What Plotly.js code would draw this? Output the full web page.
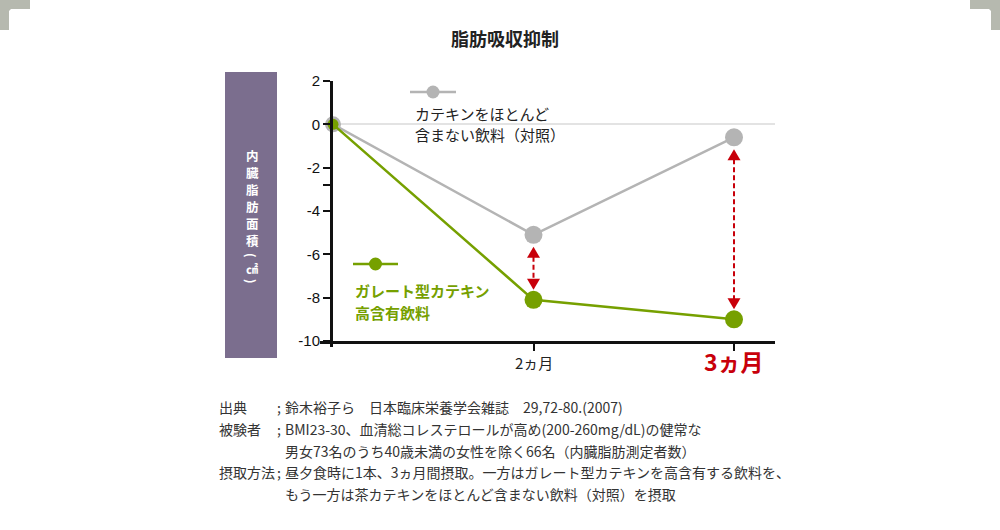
<!DOCTYPE html>
<html>
<head>
<meta charset="utf-8">
<script src="https://cdn.plot.ly/plotly-3.0.1.min.js"></script>
<style>
  html, body { margin: 0; padding: 0; background: #fff; }
  #chart { width: 1000px; height: 530px; }
</style>
</head>
<body>
<div id="chart"></div>
<script>
// data
var monthIdx = [0, 1, 2];
var monthLabels = ['', '2ヵ月', '3ヵ月'];
var controlName = ['カテキンをほとんど', '含まない飲料（対照）'];
var controlVals = [0, -5.1, -0.6];
var galloylName = ['ガレート型カテキン', '高含有飲料'];
var galloylVals = [0, -8.1, -9.0];
var yTickVals = [2, 0, -2, -2.8, -4, -6, -8, -10];
var yTickText = ['2', '0', '-2', '', '-4', '-6', '-8', '-10'];
var yLabelChars = ['内', '臓', '脂', '肪', '面', '積'];
var yLabelUnit = ['(', '㎠', ')'];
var chartTitle = '脂肪吸収抑制';
var noteLabels = ['出典', '被験者', '', '摂取方法', ''];
var noteTexts = [
  '鈴木裕子ら　日本臨床栄養学会雑誌　29,72-80.(2007)',
  'BMI23-30、血清総コレステロールが高め(200-260mg/dL)の健常な',
  '男女73名のうち40歳未満の女性を除く66名（内臓脂肪測定者数）',
  '昼夕食時に1本、3ヵ月間摂取。一方はガレート型カテキンを高含有する飲料を、',
  'もう一方は茶カテキンをほとんど含まない飲料（対照）を摂取'
];

// plot box in pixels
var L = 333, R = 775, T = 81, B = 341;
var yMin = -10, yMax = 2;
var unitPx = (B - T) / (yMax - yMin);
var xMax = (R - L) / 200.5;
function px(x) { return (x - L) / (R - L); }
function py(y) { return (B - y) / (B - T); }

var GRAY = '#b4b4b4', GREEN = '#76a000', RED = '#c8000a', CORNER = '#b6b9af', PURPLE = '#7b6e8e';
var JP = 'Noto Sans CJK JP';

var gray = {
  x: monthIdx, y: controlVals, mode: 'lines+markers', type: 'scatter',
  line: { color: GRAY, width: 2.5 },
  marker: { color: GRAY, size: [16, 18, 18], opacity: 1, line: { width: 0 } },
  cliponaxis: false, hoverinfo: 'skip'
};
var green = {
  x: monthIdx, y: galloylVals, mode: 'lines+markers', type: 'scatter',
  line: { color: GREEN, width: 2.5 },
  marker: { color: GREEN, size: [11, 18, 18], opacity: 1, line: { width: 0 } },
  cliponaxis: false, hoverinfo: 'skip'
};

var data = [gray, green];
var shapes = [];

// red dashed difference arrows at 2 and 3 months
[1, 2].forEach(function (i) {
  var top = controlVals[i], bot = galloylVals[i];
  data.push({
    x: [i, i], y: [top - 22 / unitPx, bot + 20 / unitPx],
    mode: 'lines', type: 'scatter',
    line: { color: RED, width: 2, dash: '5px,3px' },
    hoverinfo: 'skip'
  });
  shapes.push({
    type: 'path', xref: 'x', yref: 'y', xsizemode: 'pixel', ysizemode: 'pixel',
    xanchor: i, yanchor: top, path: 'M0,-12 L6.5,-23 L-6.5,-23 Z',
    fillcolor: RED, line: { width: 0 }
  });
  shapes.push({
    type: 'path', xref: 'x', yref: 'y', xsizemode: 'pixel', ysizemode: 'pixel',
    xanchor: i, yanchor: bot, path: 'M0,10 L6.5,21 L-6.5,21 Z',
    fillcolor: RED, line: { width: 0 }
  });
});

// axis line extensions
shapes.push({ type: 'line', xref: 'paper', yref: 'paper', x0: px(320), x1: px(333), y0: py(B + 1.5), y1: py(B + 1.5),
  line: { color: '#111', width: 3 } });
shapes.push({ type: 'line', xref: 'paper', yref: 'paper', x0: px(L - 1.5), x1: px(L - 1.5), y0: py(B), y1: py(347),
  line: { color: '#111', width: 3 } });

// purple y-label box
shapes.push({ type: 'rect', xref: 'paper', yref: 'paper', x0: px(225), x1: px(277), y0: py(72), y1: py(358),
  fillcolor: PURPLE, line: { width: 0 }, layer: 'below' });

// legend samples
function legendSample(x0, x1, y, color) {
  shapes.push({ type: 'line', xref: 'paper', yref: 'paper', x0: px(x0), x1: px(x1), y0: py(y), y1: py(y),
    line: { color: color, width: 2.5 } });
  var cx = (x0 + x1) / 2;
  shapes.push({ type: 'circle', xref: 'paper', yref: 'paper', x0: px(cx - 6.5), x1: px(cx + 6.5), y0: py(y + 6.5), y1: py(y - 6.5),
    fillcolor: color, line: { width: 0 } });
}
legendSample(410, 456, 92, GRAY);
legendSample(353, 398, 264, GREEN);

// page corners
function cornerPath(pts) {
  return pts.map(function (p, k) {
    return (k === 0 ? 'M' : 'L') + px(p[0]) + ',' + py(p[1]);
  }).join(' ') + ' Z';
}
shapes.push({ type: 'path', xref: 'paper', yref: 'paper', fillcolor: CORNER, line: { width: 0 },
  path: cornerPath([[0, 0], [30, 0], [30, 9], [11, 9], [9, 11], [9, 30], [0, 30]]) });
shapes.push({ type: 'path', xref: 'paper', yref: 'paper', fillcolor: CORNER, line: { width: 0 },
  path: cornerPath([[1000, 0], [970, 0], [970, 9], [989, 9], [991, 11], [991, 30], [1000, 30]]) });

var annotations = [];
function note(x, y, text, font, xanchor, extra) {
  var a = { xref: 'paper', yref: 'paper', x: px(x), y: py(y), text: text, showarrow: false,
    xanchor: xanchor || 'left', yanchor: 'middle', font: font };
  for (var k in extra || {}) a[k] = extra[k];
  annotations.push(a);
}

note(505, 38, '<b>' + chartTitle + '</b>', { family: JP, size: 18, color: '#222' }, 'center');

// y label, stacked vertically (one character per line)
yLabelChars.forEach(function (c, k) {
  note(252, 155 + k * 17, '<b>' + c + '</b>', { family: JP, size: 12.5, color: '#fff' }, 'center', { borderpad: 0 });
});
note(252, 255, '<b>' + yLabelUnit[0] + '</b>', { family: JP, size: 12, color: '#fff' }, 'center', { textangle: 90, borderpad: 0 });
note(252, 268, '<b>' + yLabelUnit[1] + '</b>', { family: JP, size: 12, color: '#fff' }, 'center', { borderpad: 0 });
note(252, 281, '<b>' + yLabelUnit[2] + '</b>', { family: JP, size: 12, color: '#fff' }, 'center', { textangle: 90, borderpad: 0 });

// legend text
note(413, 113, controlName[0], { family: JP, size: 15, color: '#222' });
note(413, 134, controlName[1], { family: JP, size: 15, color: '#222' });
note(353, 290, '<b>' + galloylName[0] + '</b>', { family: JP, size: 15, color: GREEN });
note(353, 312, '<b>' + galloylName[1] + '</b>', { family: JP, size: 15, color: GREEN });

// month labels
annotations.push({ xref: 'x', yref: 'paper', x: monthIdx[1], y: py(362), text: monthLabels[1], showarrow: false,
  xanchor: 'center', yanchor: 'middle', font: { family: JP, size: 15, color: '#222' } });
annotations.push({ xref: 'x', yref: 'paper', x: monthIdx[2], y: py(361), text: '<b>' + monthLabels[2] + '</b>', showarrow: false,
  xanchor: 'center', yanchor: 'middle', font: { family: JP, size: 23, color: RED } });

// footnotes
noteTexts.forEach(function (t, k) {
  var y = 407 + k * 21.75;
  if (noteLabels[k]) {
    note(217, y, noteLabels[k], { family: JP, size: 14, color: '#333' });
    note(275, y, ';', { family: JP, size: 14, color: '#333' });
  }
  note(283, y, t, { family: JP, size: 14, color: '#333' });
});

var layout = {
  width: 1000, height: 530,
  margin: { l: L, r: 1000 - R, t: T, b: 530 - B },
  paper_bgcolor: '#fff', plot_bgcolor: '#fff',
  showlegend: false,
  font: { family: JP, color: '#222' },
  xaxis: {
    range: [0, xMax], showgrid: false, zeroline: false,
    showline: true, linecolor: '#111', linewidth: 3,
    ticks: 'outside', tickvals: monthIdx.slice(1), ticklen: 7, tickwidth: 2, tickcolor: '#111',
    showticklabels: false, fixedrange: true
  },
  yaxis: {
    range: [yMin, yMax], showgrid: false,
    zeroline: true, zerolinecolor: '#e3e3e3', zerolinewidth: 2,
    showline: true, linecolor: '#111', linewidth: 3,
    ticks: 'outside', tickvals: yTickVals, ticktext: yTickText, ticklen: 7, tickwidth: 2, tickcolor: '#111',
    tickfont: { family: 'Liberation Sans, Arial, sans-serif', size: 15, color: '#111' },
    fixedrange: true
  },
  shapes: shapes,
  annotations: annotations
};

Plotly.newPlot('chart', data, layout, { displayModeBar: false, staticPlot: true });
</script>
</body>
</html>
